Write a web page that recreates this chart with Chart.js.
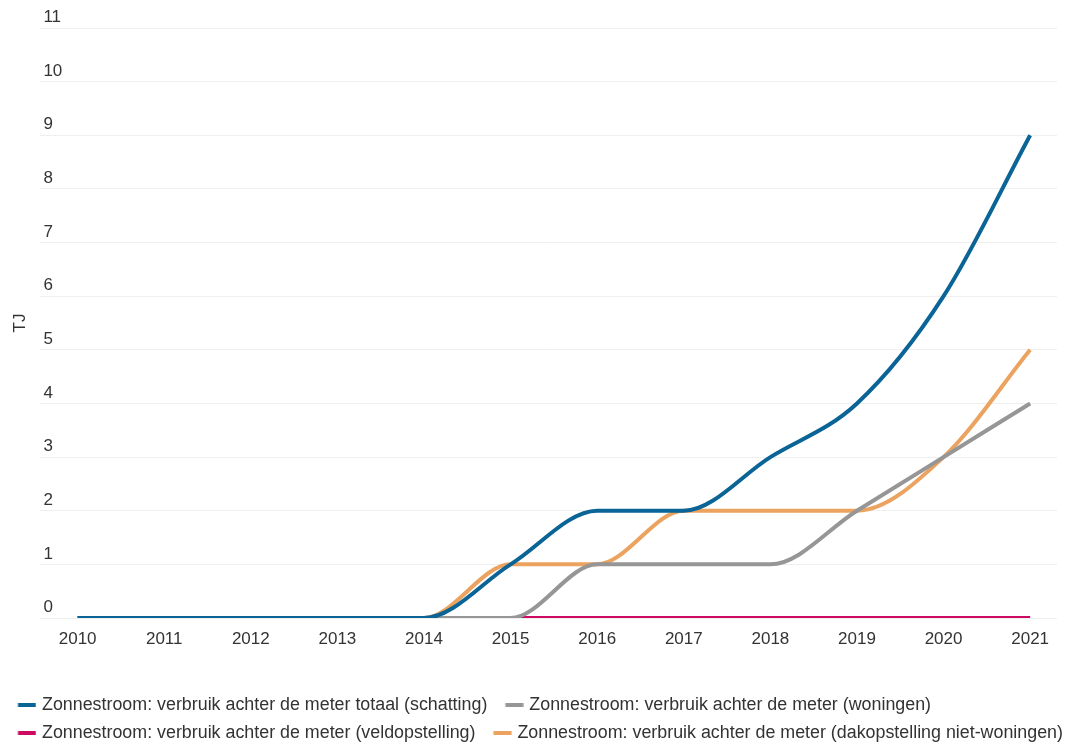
<!DOCTYPE html>
<html lang="nl">
<head>
<meta charset="utf-8">
<title>Zonnestroom: verbruik achter de meter</title>
<script src="https://cdn.jsdelivr.net/npm/chart.js@4/dist/chart.umd.min.js"></script>
<style>
  html, body { margin: 0; padding: 0; background: #ffffff; }
  #wrap { width: 1065px; height: 746px; position: relative; }
</style>
</head>
<body>
<div id="wrap"><canvas id="chart"></canvas></div>
<script>
// Jaren op de x-as
const years = [2010, 2011, 2012, 2013, 2014, 2015, 2016, 2017, 2018, 2019, 2020, 2021];

// Verbruik achter de meter per jaar, in TJ
const totaal         = [0, 0, 0, 0, 0, 1, 2, 2, 3, 4, 6, 9];
const woningen       = [0, 0, 0, 0, 0, 0, 1, 1, 1, 2, 3, 4];
const veldopstelling = [0, 0, 0, 0, 0, 0, 0, 0, 0, 0, 0, 0];
const dakopstelling  = [0, 0, 0, 0, 0, 1, 1, 2, 2, 2, 3, 5];

// Waarden voor de y-as
const yTicks = [0, 1, 2, 3, 4, 5, 6, 7, 8, 9, 10, 11];

const seriesNames = [
  'Zonnestroom: verbruik achter de meter totaal (schatting)',
  'Zonnestroom: verbruik achter de meter (woningen)',
  'Zonnestroom: verbruik achter de meter (veldopstelling)',
  'Zonnestroom: verbruik achter de meter (dakopstelling niet-woningen)'
];
const seriesColors = ['#0a6496', '#969696', '#cc0a62', '#eba35f'];
const seriesValues = [totaal, woningen, veldopstelling, dakopstelling];

const FONT = '"Liberation Sans", Arial, Helvetica, sans-serif';
const FONT_SIZE = 17;
const LEGEND_SIZE = 17.85;
const TEXT = '#333333';

// De legenda mag iets breder zijn dan het tekenvlak; de rechtermarge
// van het tekenvlak komt via de x-as terug.
const LEGEND_EXTRA = 16;
const PLOT_RIGHT_GAP = 8;

// Legendasymbool: een kort streepje (18 x 4), rechts van het midden van het vak
const BOX_W = 22.45;          // breedte van het legendavak
const MARK_LEN = 18, MARK_H = 4;
const MARK_SHIFT = 5.1;       // verschuiving van het streepje t.o.v. het vakmidden
function legendMark(color) {
  const half = MARK_LEN / 2 + MARK_SHIFT;
  const c = document.createElement('canvas');
  c.width = Math.ceil(half * 2);
  c.height = MARK_H;
  const g = c.getContext('2d');
  g.fillStyle = color;
  g.fillRect(c.width / 2 + MARK_SHIFT - MARK_LEN / 2, 0, MARK_LEN, MARK_H);
  return c;
}
const legendMarks = seriesColors.map(legendMark);

const datasets = seriesValues.map((vals, i) => ({
  label: seriesNames[i],
  data: vals,
  borderColor: seriesColors[i],
  backgroundColor: seriesColors[i],
  borderWidth: 4,
  pointRadius: 0,
  pointHoverRadius: 0,
  fill: false,
  cubicInterpolationMode: 'monotone',
  borderCapStyle: 'butt'
}));

new Chart(document.getElementById('chart'), {
  type: 'line',
  data: { labels: years, datasets: datasets },
  options: {
    responsive: true,
    maintainAspectRatio: false,
    animation: false,
    layout: { padding: { top: 28, right: -LEGEND_EXTRA, bottom: 0, left: 0 } },
    plugins: {
      tooltip: { enabled: false },
      legend: {
        position: 'bottom',
        align: 'start',
        maxHeight: 60.6,
        labels: {
          color: TEXT,
          font: { family: FONT, size: LEGEND_SIZE },
          usePointStyle: true,
          pointStyleWidth: BOX_W,
          boxHeight: MARK_H,
          padding: 10.65,
          generateLabels(chart) {
            return Chart.defaults.plugins.legend.labels.generateLabels(chart).map(item => {
              item.pointStyle = legendMarks[item.datasetIndex];
              item.fillStyle = seriesColors[item.datasetIndex];
              item.lineWidth = 0;
              item.strokeStyle = 'rgba(0,0,0,0)';
              return item;
            });
          }
        }
      }
    },
    scales: {
      x: {
        type: 'linear',
        min: 2009.57,
        max: 2021.31,
        grid: { display: false, drawTicks: false },
        border: { display: false },
        afterBuildTicks(scale) {
          scale.ticks = years.map(v => ({ value: v }));
        },
        afterFit(scale) {
          scale.height = 67.4;
          scale.paddingRight = PLOT_RIGHT_GAP;
        },
        ticks: {
          color: TEXT,
          font: { family: FONT, size: FONT_SIZE },
          padding: 11,
          maxRotation: 0,
          autoSkip: false,
          callback: v => String(v)
        }
      },
      y: {
        min: 0,
        max: 11,
        afterBuildTicks(scale) {
          scale.ticks = yTicks.map(v => ({ value: v }));
        },
        grid: { color: '#efefef', lineWidth: 1, drawTicks: false },
        border: { display: false },
        title: {
          display: true,
          text: 'TJ',
          color: TEXT,
          font: { family: FONT, size: FONT_SIZE },
          padding: { top: 10, bottom: 4 }
        },
        ticks: {
          mirror: true,
          padding: 3,
          labelOffset: -10.5,
          color: TEXT,
          font: { family: FONT, size: FONT_SIZE },
          callback: v => String(v)
        }
      }
    }
  }
});
</script>
</body>
</html>
